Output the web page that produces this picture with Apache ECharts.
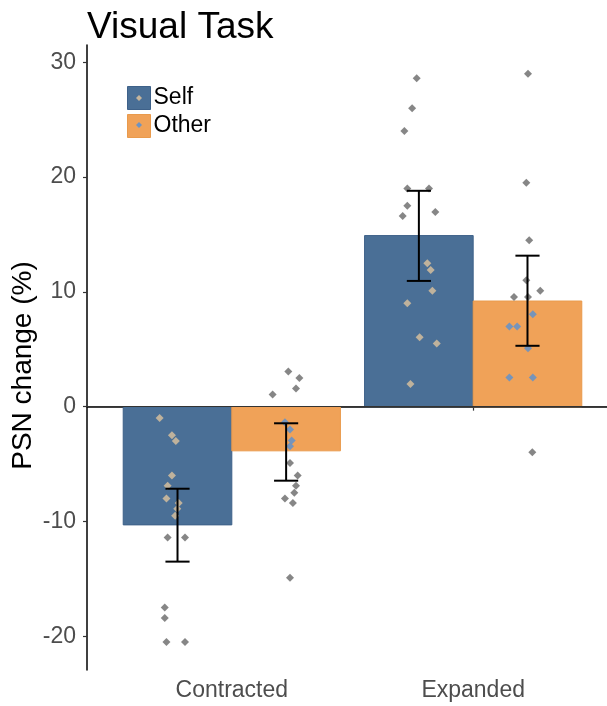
<!DOCTYPE html>
<html>
<head>
<meta charset="utf-8">
<script src="https://cdn.jsdelivr.net/npm/echarts@6/dist/echarts.min.js"></script>
<style>
html,body{margin:0;padding:0;background:#fff;}
#chart{width:607px;height:706px;}
</style>
</head>
<body>
<div id="chart"></div>
<script>
// ---- data ----
const categories = ['Contracted', 'Expanded'];
const groups = ['Self', 'Other'];
const selfMeans = [-10.3, 14.9];
const otherMeans = [-3.85, 9.2];
const selfErrLow = [-13.5, 10.95];
const selfErrHigh = [-7.15, 18.8];
const otherErrLow = [-6.45, 5.3];
const otherErrHigh = [-1.45, 13.15];

// individual participants (value, horizontal jitter in category units)
const selfContractedPts = [-1.0, -2.5, -3.0, -6.0, -6.9, -8.0, -8.4, -8.9, -9.5, -11.4, -11.4, -17.5, -18.4, -20.5, -20.5];
const selfContractedJit = [-0.074, -0.023, -0.007, -0.023, -0.041, -0.046, 0.005, -0.001, -0.010, -0.041, 0.031, -0.053, -0.053, -0.046, 0.031];
const otherContractedPts = [3.07, 2.5, 1.57, 1.05, -1.37, -2.0, -2.96, -3.45, -4.9, -6.0, -6.9, -7.5, -8.0, -8.4, -14.9];
const otherContractedJit = [0.009, 0.055, 0.041, -0.056, -0.005, 0.016, 0.023, 0.016, 0.016, 0.048, 0.041, 0.034, -0.005, 0.028, 0.016];
const selfExpandedPts = [28.6, 26.0, 24.0, 19.0, 19.0, 17.5, 16.96, 16.6, 12.5, 11.9, 10.1, 9.0, 6.04, 5.5, 1.98];
const selfExpandedJit = [-0.009, -0.028, -0.060, -0.048, 0.042, -0.048, 0.068, -0.067, 0.035, 0.049, 0.056, -0.048, 0.003, 0.074, -0.035];
const otherExpandedPts = [29.0, 19.5, 14.5, 11.0, 10.1, 9.56, 9.56, 8.05, 6.97, 6.97, 5.08, 2.53, 2.53, -3.98];
const otherExpandedJit = [0.002, -0.005, 0.007, -0.005, 0.053, -0.056, 0.002, 0.022, -0.075, -0.043, 0.002, -0.075, 0.022, 0.020];

const yTicks = [-20, -10, 0, 10, 20, 30];

// ---- styling ----
const FONT = 'Liberation Sans, Arial, sans-serif';
const colSelf = '#4a6f96', colSelfBorder = '#3e6189';
const colOther = '#f0a258', colOtherBorder = '#e99a4c';
const dotOnSelf = '#c5b59c', dotOnOther = '#6f93c0', dotOut = '#808080';
const DODGE = 0.225, BARW = 0.45, CAP = 0.05;

function center(ci, gi) { return (ci + 1) + (gi === 0 ? -DODGE : DODGE); }

function barData(means, gi) { return means.map((v, ci) => [center(ci, gi), v]); }
function errData(lo, hi, gi) { return lo.map((l, ci) => [center(ci, gi), l, hi[ci]]); }

function ptData(pts, jit, ci, gi, mean) {
  const onColor = gi === 0 ? dotOnSelf : dotOnOther;
  return pts.map((v, i) => {
    const inside = (Math.sign(v) === Math.sign(mean)) && Math.abs(v) <= Math.abs(mean);
    return { value: [center(ci, gi) + jit[i], v], itemStyle: { color: inside ? onColor : dotOut } };
  });
}

function barRender(fill, stroke) {
  return function (params, api) {
    const xc = api.value(0), v = api.value(1);
    const p0 = api.coord([xc - BARW / 2, 0]);
    const p1 = api.coord([xc + BARW / 2, v]);
    return {
      type: 'rect',
      shape: { x: p0[0], y: Math.min(p0[1], p1[1]), width: p1[0] - p0[0], height: Math.abs(p1[1] - p0[1]) },
      style: { fill: fill, stroke: stroke, lineWidth: 1 }
    };
  };
}

function errRender(params, api) {
  const xc = api.value(0), lo = api.value(1), hi = api.value(2);
  const a = api.coord([xc, lo]), b = api.coord([xc, hi]);
  const l1 = api.coord([xc - CAP, lo]), r1 = api.coord([xc + CAP, lo]);
  const l2 = api.coord([xc - CAP, hi]), r2 = api.coord([xc + CAP, hi]);
  const st = { stroke: '#000', lineWidth: 2 };
  return {
    type: 'group',
    children: [
      { type: 'line', shape: { x1: a[0], y1: a[1], x2: b[0], y2: b[1] }, style: st },
      { type: 'line', shape: { x1: l1[0], y1: l1[1], x2: r1[0], y2: r1[1] }, style: st },
      { type: 'line', shape: { x1: l2[0], y1: l2[1], x2: r2[0], y2: r2[1] }, style: st }
    ]
  };
}

const chart = echarts.init(document.getElementById('chart'), null, { renderer: 'canvas' });

const pointSeries = [
  ptData(selfContractedPts, selfContractedJit, 0, 0, selfMeans[0]),
  ptData(otherContractedPts, otherContractedJit, 0, 1, otherMeans[0]),
  ptData(selfExpandedPts, selfExpandedJit, 1, 0, selfMeans[1]),
  ptData(otherExpandedPts, otherExpandedJit, 1, 1, otherMeans[1])
].map((d, i) => ({
  name: 'points' + i,
  type: 'scatter',
  symbol: 'diamond',
  symbolSize: 8,
  z: 3,
  silent: true,
  itemStyle: { opacity: 0.95 },
  data: d
}));

chart.setOption({
  animation: false,
  backgroundColor: '#fff',
  textStyle: { fontFamily: FONT },
  title: {
    text: 'Visual Task',
    left: 82,
    top: 4,
    textStyle: { fontFamily: FONT, fontSize: 37, fontWeight: 'normal', color: '#000' }
  },
  legend: [
    {
      orient: 'vertical',
      left: 127,
      top: 86,
      padding: 0,
      itemWidth: 23,
      itemHeight: 23,
      itemGap: 4,
      icon: 'rect',
      selectedMode: false,
      textStyle: { fontFamily: FONT, fontSize: 23, color: '#000', padding: [0, 0, 0, -2] },
      data: [
        { name: groups[0], itemStyle: { color: colSelf, borderColor: colSelfBorder, borderWidth: 1 } },
        { name: groups[1], itemStyle: { color: colOther, borderColor: colOtherBorder, borderWidth: 1 } }
      ]
    },
    {
      orient: 'vertical',
      left: 136,
      top: 95,
      padding: 0,
      itemWidth: 6,
      itemHeight: 6,
      itemGap: 21,
      icon: 'diamond',
      selectedMode: false,
      formatter: function () { return ''; },
      textStyle: { fontSize: 6, lineHeight: 6 },
      data: [
        { name: groups[0], itemStyle: { color: dotOnSelf, borderWidth: 0 } },
        { name: groups[1], itemStyle: { color: dotOnOther, borderWidth: 0 } }
      ]
    }
  ],
  grid: { left: 87, top: 45, width: 531, height: 625, containLabel: false, outerBoundsMode: 'none' },
  xAxis: {
    type: 'value',
    min: 0.4,
    max: 2.6,
    splitNumber: 2,
    splitLine: { show: false },
    axisLine: { show: true, lineStyle: { color: '#000', width: 1.5 } },
    axisTick: { show: true, length: 4, lineStyle: { color: '#333', width: 1.2 } },
    axisLabel: {
      margin: 9,
      fontFamily: FONT,
      fontSize: 23,
      color: '#4d4d4d',
      showMinLabel: false,
      showMaxLabel: false,
      formatter: function (v) {
        const i = Math.round(v) - 1;
        return (Math.abs(v - Math.round(v)) < 1e-6 && categories[i]) ? categories[i] : '';
      }
    }
  },
  yAxis: {
    type: 'value',
    min: -22.94,
    max: 31.5,
    splitNumber: 5,
    name: 'PSN change (%)',
    nameLocation: 'middle',
    nameGap: 50,
    nameMoveOverlap: false,
    nameTextStyle: { fontFamily: FONT, fontSize: 28, color: '#000', padding: [0, 16, 0, 0] },
    splitLine: { show: false },
    axisLine: { show: true, onZero: false, lineStyle: { color: '#000', width: 1.5 } },
    axisTick: { show: true, length: 4, lineStyle: { color: '#333', width: 1.2 } },
    axisLabel: {
      margin: 11,
      fontFamily: FONT,
      fontSize: 23,
      color: '#4d4d4d',
      showMinLabel: false,
      showMaxLabel: false,
      formatter: function (v) {
        return yTicks.indexOf(Math.round(v * 1000) / 1000) >= 0 ? String(v) : '';
      }
    }
  },
  series: [
    {
      name: groups[0],
      type: 'custom',
      z: 2,
      itemStyle: { color: colSelf },
      renderItem: barRender(colSelf, colSelfBorder),
      encode: { x: 0, y: 1 },
      data: barData(selfMeans, 0)
    },
    {
      name: groups[1],
      type: 'custom',
      z: 2,
      itemStyle: { color: colOther },
      renderItem: barRender(colOther, colOtherBorder),
      encode: { x: 0, y: 1 },
      data: barData(otherMeans, 1)
    },
    ...pointSeries,
    {
      name: 'errors',
      type: 'custom',
      z: 4,
      silent: true,
      renderItem: errRender,
      encode: { x: 0, y: [1, 2] },
      data: errData(selfErrLow, selfErrHigh, 0).concat(errData(otherErrLow, otherErrHigh, 1)),
      markLine: {
        silent: true,
        symbol: ['none', 'none'],
        label: { show: false },
        lineStyle: { color: '#333', width: 1.2, type: 'solid' },
        data: [{ yAxis: 0 }]
      }
    }
  ]
});
</script>
</body>
</html>
